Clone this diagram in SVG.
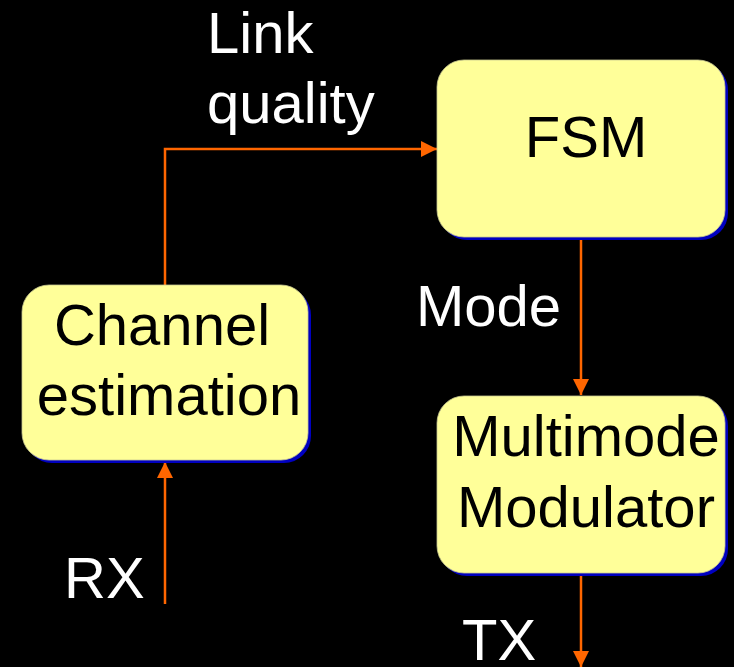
<svg xmlns="http://www.w3.org/2000/svg" width="734" height="667" viewBox="0 0 734 667">
<style>
.shadow{fill:#0000C0}
.box{fill:#FFFF99;stroke:#C8C890;stroke-width:0.8}
.lbl{font-family:"Liberation Sans",Arial,sans-serif;font-size:58px;fill:#000000;text-anchor:middle}
.wl{font-family:"Liberation Sans",Arial,sans-serif;font-size:58px;fill:#FFFFFF}
.conn{stroke:#FF6600;stroke-width:2.5;fill:none;marker-end:url(#ah)}
</style>
<defs>
<marker id="ah" markerUnits="userSpaceOnUse" markerWidth="16" markerHeight="16" viewBox="0 0 16 16" refX="16" refY="8" orient="auto">
<path d="M0,0 L16,8 L0,16 Z" fill="#FF6600"/>
</marker>
</defs>
<rect width="734" height="667" fill="#000000"/>
<g id="connectors">
<path class="conn" d="M165,285 V149 H437"/>
<path class="conn" d="M581,237 V395"/>
<path class="conn" d="M165,604 V462"/>
<path class="conn" d="M581,573 V667"/>
</g>
<g id="fsm">
<rect class="shadow" x="440" y="63" width="288" height="177" rx="27"/>
<rect class="box" x="437" y="60" width="288" height="177" rx="27"/>
<text class="lbl" x="586" y="157">FSM</text>
</g>
<g id="channel-estimation">
<rect class="shadow" x="25" y="288" width="286" height="175" rx="27"/>
<rect class="box" x="22" y="285" width="286" height="175" rx="27"/>
<text class="lbl" x="162" y="345">Channel</text>
<text class="lbl" x="169" y="415">estimation</text>
</g>
<g id="multimode-modulator">
<rect class="shadow" x="440" y="399" width="288" height="177" rx="27"/>
<rect class="box" x="437" y="396" width="288" height="177" rx="27"/>
<text class="lbl" x="586" y="456">Multimode</text>
<text class="lbl" x="586" y="527">Modulator</text>
</g>
<g id="labels">
<text class="wl" x="207" y="53">Link</text>
<text class="wl" x="207" y="123">quality</text>
<text class="wl" x="416" y="326">Mode</text>
<text class="wl" x="64" y="598">RX</text>
<text class="wl" x="462" y="660">TX</text>
</g>
</svg>
